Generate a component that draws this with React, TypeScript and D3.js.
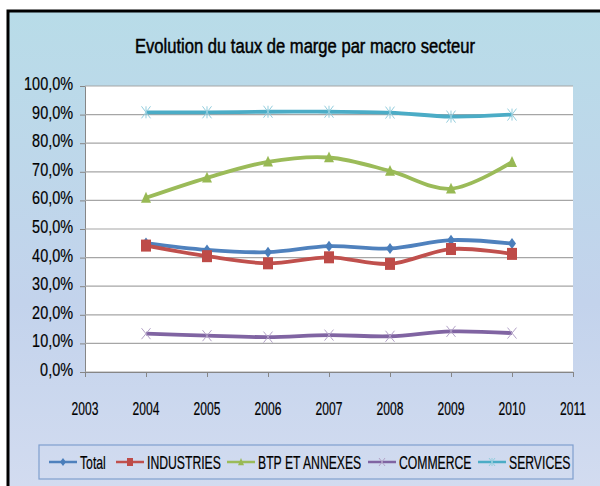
import { useEffect, useRef } from "react";
import * as d3 from "d3";

const years = [2004, 2005, 2006, 2007, 2008, 2009, 2010];
const yTicks = [0, 10, 20, 30, 40, 50, 60, 70, 80, 90, 100];
const xTicks = [2003, 2004, 2005, 2006, 2007, 2008, 2009, 2010, 2011];

const totalValues = [45.1, 42.7, 41.9, 44.0, 43.2, 46.1, 44.9];
const industriesValues = [44.2, 40.5, 38.0, 40.1, 37.8, 43.0, 41.3];
const btpValues = [60.9, 67.9, 73.5, 75.0, 70.3, 64.1, 73.4];
const commerceValues = [13.4, 12.7, 12.2, 12.9, 12.5, 14.2, 13.6];
const servicesValues = [90.8, 90.8, 91.0, 91.0, 90.7, 89.3, 90.0];

const seriesNames = ["Total", "INDUSTRIES", "BTP ET ANNEXES", "COMMERCE", "SERVICES"];

const FONT = "'Liberation Sans', Arial, sans-serif";

type Marker = "diamond" | "square" | "triangle" | "x" | "star";
type G = d3.Selection<SVGGElement, unknown, null, undefined>;

const series: { name: string; values: number[]; color: string; markColor: string; marker: Marker }[] = [
  { name: seriesNames[0], values: totalValues, color: "#4f81bd", markColor: "#4a7ebb", marker: "diamond" },
  { name: seriesNames[1], values: industriesValues, color: "#c0504d", markColor: "#be4b48", marker: "square" },
  { name: seriesNames[2], values: btpValues, color: "#9bbb59", markColor: "#98b954", marker: "triangle" },
  { name: seriesNames[3], values: commerceValues, color: "#8064a2", markColor: "#b3a2c7", marker: "x" },
  { name: seriesNames[4], values: servicesValues, color: "#4bacc6", markColor: "#93cddd", marker: "star" },
];

// the source picture is squeezed sideways, so text is drawn narrow
function narrowText(g: G, x: number, y: number, str: string, size: number, sx: number, anchor = "start", weight = 0) {
  const t = g
    .append("text")
    .attr("transform", `translate(${x},${y}) scale(${sx},1)`)
    .attr("text-anchor", anchor)
    .attr("font-family", FONT)
    .attr("font-size", size)
    .attr("fill", "#000")
    .text(str);
  if (weight > 0) t.attr("stroke", "#000").attr("stroke-width", weight);
}

function drawMarker(g: G, kind: Marker, x: number, y: number, w: number, h: number, color: string) {
  const hw = w / 2;
  const hh = h / 2;
  if (kind === "diamond") {
    g.append("path")
      .attr("d", `M${x},${y - hh}L${x + hw},${y}L${x},${y + hh}L${x - hw},${y}Z`)
      .attr("fill", color);
  } else if (kind === "square") {
    g.append("rect")
      .attr("x", x - hw)
      .attr("y", y - hh)
      .attr("width", w)
      .attr("height", h)
      .attr("fill", color);
  } else if (kind === "triangle") {
    g.append("path")
      .attr("d", `M${x},${y - hh}L${x + hw},${y + hh * 0.8}L${x - hw},${y + hh * 0.8}Z`)
      .attr("fill", color);
  } else {
    let d = `M${x - hw},${y - hh}L${x + hw},${y + hh}M${x - hw},${y + hh}L${x + hw},${y - hh}`;
    if (kind === "star") d += `M${x},${y - hh}L${x},${y + hh}`;
    g.append("path").attr("d", d).attr("stroke", color).attr("stroke-width", 1).attr("fill", "none");
  }
}

export default function App() {
  const svgRef = useRef<SVGSVGElement>(null);

  useEffect(() => {
    if (!svgRef.current) return;
    const svg = d3.select(svgRef.current);
    svg.selectAll("*").remove();

    const width = 600;
    const height = 486;
    const plot = { left: 85, right: 573, top: 86, bottom: 372 };

    const defs = svg.append("defs");
    const grad = defs
      .append("linearGradient")
      .attr("id", "bg")
      .attr("x1", 0)
      .attr("y1", 0)
      .attr("x2", 0)
      .attr("y2", 1);
    grad.append("stop").attr("offset", "0%").attr("stop-color", "#b8dce8");
    grad.append("stop").attr("offset", "60%").attr("stop-color", "#c3d3ec");
    grad.append("stop").attr("offset", "100%").attr("stop-color", "#d3dcf0");

    svg.append("rect").attr("width", width).attr("height", height).attr("fill", "#fff");
    svg
      .append("rect")
      .attr("x", 8)
      .attr("y", 11)
      .attr("width", width)
      .attr("height", height)
      .attr("fill", "url(#bg)")
      .attr("stroke", "#000")
      .attr("stroke-width", 3);

    const root = svg.append("g") as unknown as G;

    narrowText(root, 305, 53, "Evolution du taux de marge par macro secteur", 21, 0.79, "middle", 0.5);

    const x = d3.scaleLinear().domain([2003, 2011]).range([plot.left, plot.right]);
    const y = d3.scaleLinear().domain([0, 100]).range([plot.bottom, plot.top]);

    svg
      .append("rect")
      .attr("x", plot.left)
      .attr("y", plot.top)
      .attr("width", plot.right - plot.left)
      .attr("height", plot.bottom - plot.top)
      .attr("fill", "#fff");

    const yAxis = svg
      .append("g")
      .attr("transform", `translate(${plot.left},0)`)
      .call(d3.axisLeft(y).tickValues(yTicks).tickSize(5).tickFormat(() => ""));
    yAxis.select(".domain").attr("stroke", "#868686");
    yAxis.selectAll(".tick line").attr("stroke", "#868686");

    const yLabels = svg.append("g") as unknown as G;
    yTicks.forEach(t =>
      narrowText(yLabels, 73, y(t) + 4, `${t.toFixed(1).replace(".", ",")}%`, 18.5, 0.78, "end", 0.2)
    );

    // gridlines
    svg
      .append("g")
      .selectAll("line")
      .data(yTicks)
      .enter()
      .append("line")
      .attr("x1", plot.left)
      .attr("x2", plot.right)
      .attr("y1", d => y(d))
      .attr("y2", d => y(d))
      .attr("stroke", "#a6a6a6")
      .attr("stroke-width", 1.2);

    const xAxis = svg
      .append("g")
      .attr("transform", `translate(0,${plot.bottom})`)
      .call(d3.axisBottom(x).tickValues(xTicks).tickSize(5).tickFormat(() => ""));
    xAxis.select(".domain").attr("stroke", "#868686");
    xAxis.selectAll(".tick line").attr("stroke", "#868686");

    const xLabels = svg.append("g") as unknown as G;
    xTicks.forEach(t => narrowText(xLabels, x(t), 415, String(t), 18, 0.67, "middle", 0.2));

    const line = d3
      .line<number>()
      .x((_, i) => x(years[i]))
      .y(d => y(d))
      .curve(d3.curveCardinal.tension(0));

    const markSize: Record<Marker, [number, number]> = {
      diamond: [8, 11],
      square: [10, 12],
      triangle: [10, 12],
      x: [9, 11],
      star: [9, 12],
    };

    series.forEach(s => {
      const g = svg.append("g") as unknown as G;
      g.append("path")
        .datum(s.values)
        .attr("fill", "none")
        .attr("stroke", s.color)
        .attr("stroke-width", 3.8)
        .attr("stroke-linejoin", "round")
        .attr("d", line);
      const [w, h] = markSize[s.marker];
      s.values.forEach((v, i) => drawMarker(g, s.marker, x(years[i]), y(v), w, h, s.markColor));
    });

    // legend
    const legend = svg.append("g") as unknown as G;
    legend
      .append("rect")
      .attr("x", 39)
      .attr("y", 445)
      .attr("width", 534)
      .attr("height", 34)
      .attr("fill", "none")
      .attr("stroke", "#7f9fce")
      .attr("stroke-width", 1.2);
    const legendX = [49, 116, 227, 368, 478];
    series.forEach((s, i) => {
      const lx = legendX[i];
      const ly = 462;
      const lg = legend.append("g") as unknown as G;
      lg.append("line")
        .attr("x1", lx)
        .attr("x2", lx + 28)
        .attr("y1", ly)
        .attr("y2", ly)
        .attr("stroke", s.color)
        .attr("stroke-width", 2.5);
      drawMarker(lg, s.marker, lx + 14, ly, 6, 8, s.markColor);
      narrowText(lg, lx + 31, ly + 7, s.name, 18.5, 0.66, "start", 0.2);
    });
  }, []);

  return (
    <svg
      ref={svgRef}
      width={600}
      height={486}
      style={{ position: "absolute", left: 0, top: 0 }}
    />
  );
}
